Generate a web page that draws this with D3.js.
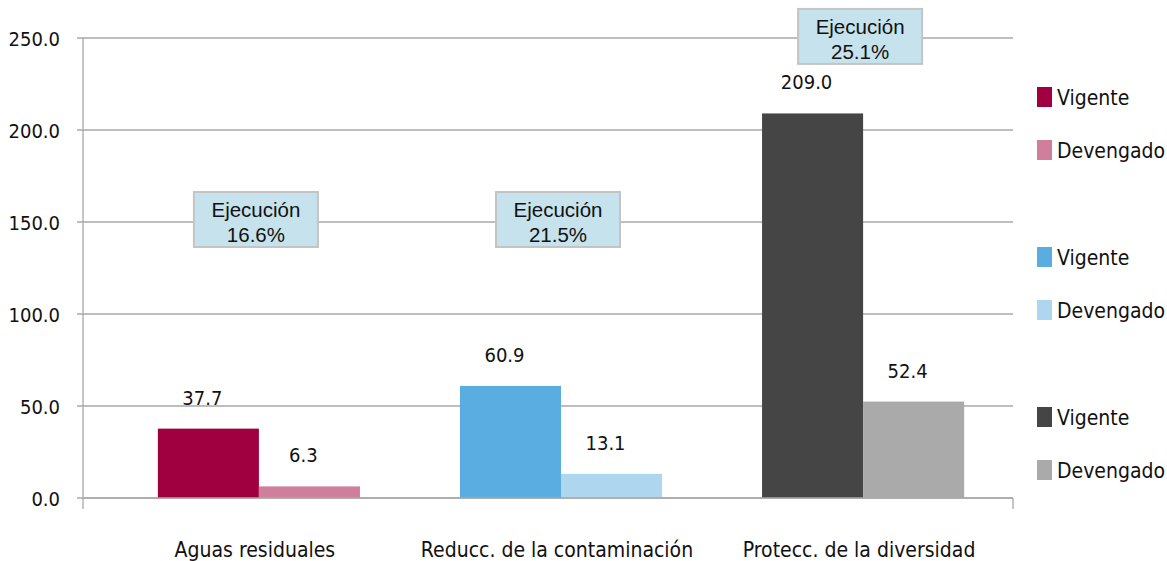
<!DOCTYPE html>
<html><head><meta charset="utf-8">
<script src="https://cdn.jsdelivr.net/npm/d3@7"></script>
<style>body{margin:0;background:#fff}svg{display:block}</style>
</head><body>
<svg id="c" width="1167" height="561"></svg>
<script>
const categories = ["Aguas residuales", "Reducc. de la contaminación", "Protecc. de la diversidad"];
const vigente = [37.7, 60.9, 209.0];
const devengado = [6.3, 13.1, 52.4];
const ejecucion = ["16.6%", "21.5%", "25.1%"];
const yTicks = [0, 50, 100, 150, 200, 250];
const seriesNames = ["Vigente", "Devengado"];
const vigenteColors = ["#a0003f", "#5aade0", "#454545"];
const devengadoColors = ["#cf7f9c", "#aed6ef", "#aaaaaa"];

const cond = "'Liberation Sans Narrow','DejaVu Sans Condensed','Roboto Condensed',sans-serif";
const svg = d3.select("#c");
const y = d3.scaleLinear().domain([0, 250]).range([498, 38]);
const x = d3.scaleBand().domain(categories).range([108, 1014]).paddingInner(0.331).paddingOuter(0.165);
const xs = d3.scaleBand().domain(seriesNames).range([0, x.bandwidth()]);
const left = 83, right = 1013;

// gridlines
svg.append("g").selectAll("line").data(yTicks).join("line")
  .attr("x1", 77).attr("x2", right).attr("y1", d => y(d)).attr("y2", d => y(d))
  .attr("stroke", "#a8a8a8").attr("stroke-width", 1.3);
// y axis line
svg.append("line").attr("x1", left).attr("x2", left).attr("y1", y(250)).attr("y2", 509)
  .attr("stroke", "#a8a8a8").attr("stroke-width", 1.3);
svg.append("line").attr("x1", right).attr("x2", right).attr("y1", y(0)).attr("y2", 509)
  .attr("stroke", "#a8a8a8").attr("stroke-width", 1.3);
// y tick labels
svg.append("g").selectAll("text").data(yTicks).join("text")
  .attr("x", 60).attr("y", d => y(d) + 8).attr("text-anchor", "end")
  .attr("font-family", cond).attr("font-size", 20).attr("fill", "#111")
  .text(d => d.toFixed(1));

// bars
const rows = categories.map((c, i) => ({c, i, v: [vigente[i], devengado[i]], col: [vigenteColors[i], devengadoColors[i]]}));
const g = svg.append("g");
rows.forEach(r => {
  seriesNames.forEach((s, j) => {
    const bx = x(r.c) + xs(s);
    g.append("rect").attr("x", bx).attr("y", y(r.v[j])).attr("width", xs.bandwidth())
      .attr("height", y(0) - y(r.v[j])).attr("fill", r.col[j]);
    g.append("text").attr("x", bx + xs.bandwidth() / 2 - 6).attr("y", y(r.v[j]) - 24)
      .attr("text-anchor", "middle").attr("font-family", cond).attr("font-size", 20).attr("fill", "#111")
      .text(r.v[j].toFixed(1));
  });
});
// bottom baseline redraw over bars
svg.append("line").attr("x1", left).attr("x2", right).attr("y1", y(0)).attr("y2", y(0))
  .attr("stroke", "#a8a8a8").attr("stroke-width", 1.3);

// category labels
svg.append("g").selectAll("text").data(categories).join("text")
  .attr("x", d => x(d) + x.bandwidth() / 2 - 4).attr("y", 557).attr("text-anchor", "middle")
  .attr("font-family", cond).attr("font-size", 21).attr("fill", "#111").text(d => d);

// ejecucion boxes
const boxY = [y(166.3), y(166.3), y(265.8)];
rows.forEach(r => {
  const cx = x(r.c) + x.bandwidth() / 2 - 3;
  const by = boxY[r.i];
  svg.append("rect").attr("x", cx - 62).attr("y", by).attr("width", 124).attr("height", 55)
    .attr("fill", "#c6e2ec").attr("stroke", "#c4c4c4").attr("stroke-width", 2);
  svg.append("text").attr("x", cx).attr("y", by + 25).attr("text-anchor", "middle")
    .attr("font-family", "'Liberation Sans',Arial,sans-serif").attr("font-size", 20.5).attr("fill", "#111").text("Ejecución");
  svg.append("text").attr("x", cx).attr("y", by + 50).attr("text-anchor", "middle")
    .attr("font-family", "'Liberation Sans',Arial,sans-serif").attr("font-size", 20.5).attr("fill", "#111").text(ejecucion[r.i]);
});

// legend
const legendY = [97, 150, 257, 310, 417, 470];
const legendItems = [];
categories.forEach((c, i) => {
  legendItems.push({name: seriesNames[0], color: vigenteColors[i]});
  legendItems.push({name: seriesNames[1], color: devengadoColors[i]});
});
const lg = svg.append("g");
legendItems.forEach((d, k) => {
  lg.append("rect").attr("x", 1037).attr("y", legendY[k] - 10).attr("width", 15).attr("height", 20).attr("fill", d.color);
  lg.append("text").attr("x", 1057).attr("y", legendY[k] + 8).attr("font-family", cond)
    .attr("font-size", 21).attr("fill", "#111").text(d.name);
});
</script>
</body></html>
